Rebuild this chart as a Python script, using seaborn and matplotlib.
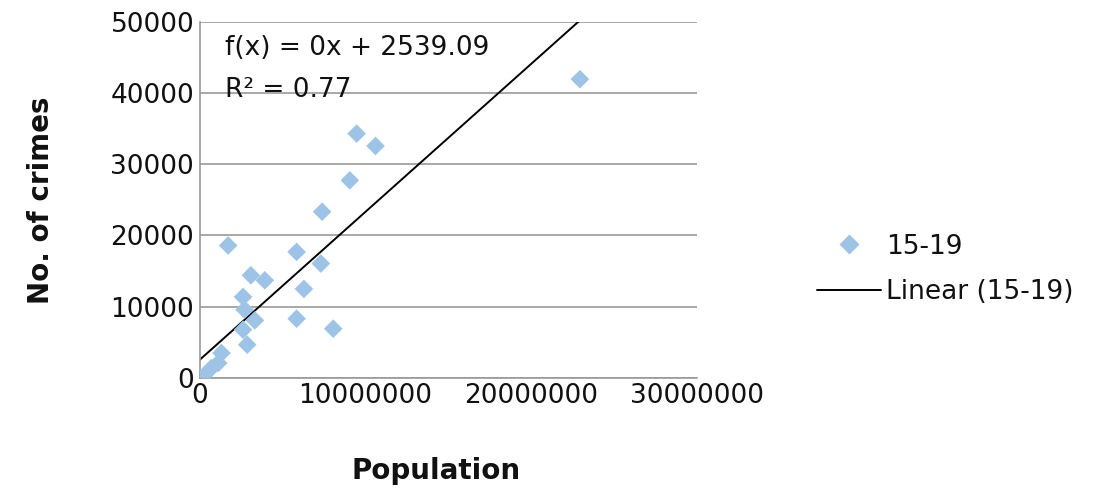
import numpy as np
import pandas as pd
import seaborn as sns
import matplotlib.pyplot as plt
from matplotlib.lines import Line2D

# values
population = [9460000, 10600000, 9050000, 7380000, 1710000, 5840000, 7300000,
              3080000, 3920000, 6280000, 2610000, 2700000, 3320000, 5840000,
              8050000, 2610000, 2860000, 1310000, 1110000, 700000, 200000,
              0, 22930000]
crimes = [34320, 32580, 27750, 23340, 18590, 17700, 16060,
          14410, 13700, 12490, 11370, 9580, 8070, 8310,
          6900, 6760, 4650, 3480, 2070, 1370, 180,
          0, 41970]
trend_slope = 0.00208
trend_intercept = 2539.09
x_ticks = [0, 10000000, 20000000, 30000000]
y_ticks = [0, 10000, 20000, 30000, 40000, 50000]

df = pd.DataFrame({"Population": population, "Crimes": crimes})
trend_x = np.array([0, 30000000])
trend = pd.DataFrame({"x": trend_x, "y": trend_intercept + trend_slope * trend_x})

sns.set_theme(style="white")
plt.rcParams['font.family'] = ['DejaVu Sans']

fig = plt.figure(figsize=(11.1, 4.9), dpi=100)
ax = fig.add_axes([0.180, 0.229, 0.448, 0.726])

point_color = "#9dc3e6"
text_color = "#111111"
sns.scatterplot(data=df, x="Population", y="Crimes", marker="D", s=90,
                color=point_color, edgecolor="none", ax=ax, zorder=3)
sns.lineplot(data=trend, x="x", y="y", color="black", linewidth=1.4, ax=ax, zorder=2)

ax.set_xlim(0, 30000000)
ax.set_ylim(0, 50000)
ax.set_xticks(x_ticks)
ax.set_yticks(y_ticks)
ax.set_xticklabels([str(t) for t in x_ticks])
ax.set_yticklabels([str(t) for t in y_ticks])
ax.tick_params(axis="both", labelsize=19, length=0, pad=4, colors=text_color)
ax.yaxis.grid(True, color="#999999", linewidth=1.2)
ax.set_axisbelow(True)
for side in ["top", "right"]:
    ax.spines[side].set_visible(False)
for side in ["left", "bottom"]:
    ax.spines[side].set_color("#999999")
    ax.spines[side].set_linewidth(1.2)

ax.set_xlabel("Population", fontsize=20, fontweight="bold", labelpad=34, color=text_color)
ax.xaxis.label.set_x(0.475)
ax.set_ylabel("No. of crimes", fontsize=20, fontweight="bold", labelpad=40, color=text_color)

ax.text(0.05, 0.965, "f(x) = 0x + 2539.09", transform=ax.transAxes,
        fontsize=19, va="top", ha="left", color=text_color)
ax.text(0.05, 0.845, "R² = 0.77", transform=ax.transAxes,
        fontsize=19, va="top", ha="left", color=text_color)

handles = [
    Line2D([], [], marker="D", linestyle="none", color=point_color,
           markersize=10, markeredgecolor="none"),
    Line2D([], [], color="black", linewidth=1.4),
]
fig.legend(handles, ["15-19", "Linear (15-19)"], loc="center left",
           bbox_to_anchor=(0.715, 0.45), frameon=False, fontsize=19,
           handlelength=2.4, handletextpad=0.2, labelspacing=0.75,
           labelcolor=text_color)

fig.savefig("out.png", dpi=100)
